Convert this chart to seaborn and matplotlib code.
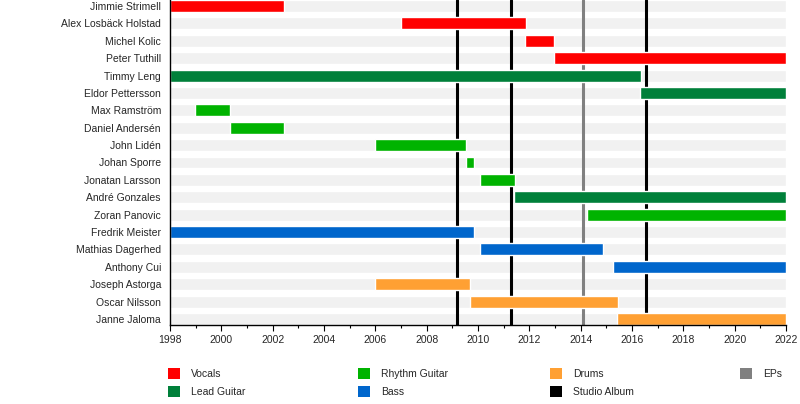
import numpy as np
import pandas as pd
import matplotlib
matplotlib.use("Agg")
import matplotlib.pyplot as plt
from matplotlib.patches import Patch
import seaborn as sns

# Band members, top to bottom, with role and years active
members = [
    "Jimmie Strimell", "Alex Losbäck Holstad", "Michel Kolic", "Peter Tuthill",
    "Timmy Leng", "Eldor Pettersson", "Max Ramström", "Daniel Andersén",
    "John Lidén", "Johan Sporre", "Jonatan Larsson", "André Gonzales",
    "Zoran Panovic", "Fredrik Meister", "Mathias Dagerhed", "Anthony Cui",
    "Joseph Astorga", "Oscar Nilsson", "Janne Jaloma",
]
roles = [
    "Vocals", "Vocals", "Vocals", "Vocals",
    "Lead Guitar", "Lead Guitar", "Rhythm Guitar", "Rhythm Guitar",
    "Rhythm Guitar", "Rhythm Guitar", "Rhythm Guitar", "Lead Guitar",
    "Rhythm Guitar", "Bass", "Bass", "Bass",
    "Drums", "Drums", "Drums",
]
starts = [
    1998.0, 2007.0, 2011.85, 2012.95,
    1998.0, 2016.33, 1998.97, 2000.32,
    2006.0, 2009.52, 2010.08, 2011.42,
    2014.25, 1998.0, 2010.08, 2015.26,
    2006.0, 2009.67, 2015.43,
]
ends = [
    2002.44, 2011.87, 2012.96, 2022.0,
    2016.36, 2022.0, 2000.34, 2002.44,
    2009.55, 2009.84, 2011.44, 2022.0,
    2022.0, 2009.84, 2014.87, 2022.0,
    2009.69, 2015.45, 2022.0,
]

# Release markers
studio_albums = [2009.18, 2011.28, 2016.54]
eps = [2014.09]

role_colors = {
    "Vocals": "#ff0000",
    "Lead Guitar": "#00803a",
    "Rhythm Guitar": "#00b300",
    "Bass": "#0066cc",
    "Drums": "#ffa033",
    "Studio Album": "#000000",
    "EPs": "#808080",
}
legend_order = ["Vocals", "Lead Guitar", "Rhythm Guitar", "Bass",
                "Drums", "Studio Album", "EPs"]

X_MIN, X_MAX = 1998, 2022
BAR_H = 0.69

df = pd.DataFrame({"member": members, "role": roles, "start": starts, "end": ends})
df["pos"] = np.arange(len(df))
df["length"] = df["end"] - df["start"]

sns.set_style("white")
plt.rcParams["font.family"] = ["Liberation Sans", "DejaVu Sans"]

fig = plt.figure(figsize=(8, 4.04), dpi=100)
ax = fig.add_axes([0.2125, 1 - 325 / 404, 0.77, 325 / 404])

# light background stripe for each row
ax.barh(df["pos"], X_MAX - X_MIN, left=X_MIN, height=BAR_H,
        color="#f1f1f1", zorder=0)

for x in studio_albums:
    ax.axvline(x, color=role_colors["Studio Album"], lw=2.2, zorder=1)
for x in eps:
    ax.axvline(x, color=role_colors["EPs"], lw=2.2, zorder=1)

ax.barh(df["pos"], df["length"], left=df["start"], height=BAR_H,
        color=df["role"].map(role_colors), zorder=2)

ax.set_xlim(X_MIN, X_MAX)
ax.set_ylim(len(df) - 1 + BAR_H / 2, -BAR_H / 2)
ax.set_yticks(df["pos"])
ax.set_yticklabels(df["member"], fontsize=7.5)
ax.set_xticks(np.arange(X_MIN, X_MAX + 1, 2))
ax.set_xticks(np.arange(X_MIN, X_MAX + 1, 1), minor=True)
ax.tick_params(axis="x", which="major", length=4, width=0.8, color="black",
               labelsize=7.5, pad=3, direction="out", bottom=True)
ax.tick_params(axis="x", which="minor", length=2.5, width=0.8, color="black",
               direction="out", bottom=True)
ax.tick_params(axis="y", length=0, pad=6.5)

sns.despine(ax=ax, top=True, right=True)
for side in ["left", "bottom"]:
    ax.spines[side].set_color("black")
    ax.spines[side].set_linewidth(1.0)
    ax.spines[side].set_zorder(3)

# legend in four columns, two entries each
col_x = [168 / 800, 358 / 800, 550 / 800, 740 / 800]
for j, cx in enumerate(col_x):
    labels = legend_order[2 * j:2 * j + 2]
    handles = [Patch(facecolor=role_colors[l], edgecolor="none", label=l) for l in labels]
    fig.legend(handles=handles, loc="upper left", bbox_to_anchor=(cx, 1 - 368 / 404),
               frameon=False, fontsize=7.5, handlelength=1.15, handleheight=1.25,
               handletextpad=1.05, labelspacing=0.7, borderpad=0, borderaxespad=0)

fig.savefig("out.png", dpi=100)
